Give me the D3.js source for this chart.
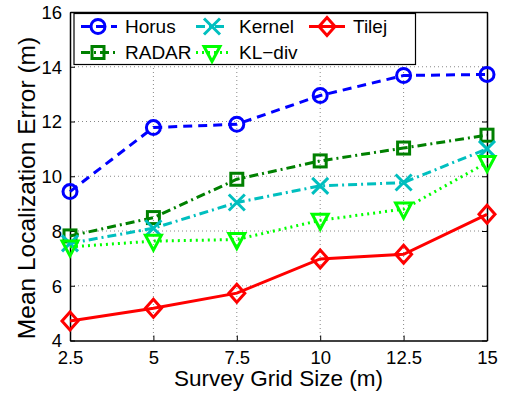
<!DOCTYPE html>
<html><head><meta charset="utf-8">
<script src="https://cdn.jsdelivr.net/npm/d3@7"></script>
<style>body{margin:0;background:#fff}svg{display:block}text{font-family:"Liberation Sans",Arial,sans-serif;fill:#000}</style>
</head><body><svg id="c" width="507" height="395"></svg>
<script>
const xValues = [2.5, 5, 7.5, 10, 12.5, 15];
const xTickLabels = ["2.5", "5", "7.5", "10", "12.5", "15"];
const yTicks = [4, 6, 8, 10, 12, 14, 16];
const seriesNames = ["Horus", "RADAR", "Kernel", "KL\u2212div", "Tilej"];
const horus = [9.44, 11.78, 11.9, 12.95, 13.68, 13.72];
const radar = [7.82, 8.49, 9.89, 10.56, 11.03, 11.5];
const kernel = [7.55, 8.1, 9.04, 9.65, 9.77, 11.0];
const kldiv = [7.42, 7.63, 7.69, 8.39, 8.8, 10.5];
const tilej = [4.71, 5.18, 5.73, 6.98, 7.15, 8.61];

const styles = [
  {color:"#0000ff", dash:"9,6", marker:"circle"},
  {color:"#008000", dash:"9,4,2,4", marker:"square"},
  {color:"#00bfbf", dash:"9,4,2,4", marker:"x"},
  {color:"#00ff00", dash:"2,4", marker:"tri"},
  {color:"#ff0000", dash:null, marker:"diamond"}
];
const allData = [horus, radar, kernel, kldiv, tilej];

const svg = d3.select("#c");
const L=70, R=487, T=12, B=340.5;
const x = d3.scaleLinear().domain([2.5,15]).range([L,R]);
const y = d3.scaleLinear().domain([4,16]).range([B,T]);

// grid
const g = svg.append("g");
g.selectAll(".gx").data(xValues.slice(1,-1)).enter().append("line")
  .attr("x1",d=>x(d)).attr("x2",d=>x(d)).attr("y1",T).attr("y2",B)
  .attr("stroke","#888").attr("stroke-width",1).attr("stroke-dasharray","1,3");
g.selectAll(".gy").data(yTicks.slice(1,-1)).enter().append("line")
  .attr("y1",d=>y(d)).attr("y2",d=>y(d)).attr("x1",L).attr("x2",R)
  .attr("stroke","#888").attr("stroke-width",1).attr("stroke-dasharray","1,3");

// axes
const xAxis = d3.axisBottom(x).tickValues(xValues).tickFormat((d,i)=>xTickLabels[i]).tickSizeInner(-5).tickSizeOuter(0).tickPadding(10);
const yAxis = d3.axisLeft(y).tickValues(yTicks).tickSizeInner(-5).tickSizeOuter(0).tickPadding(8);
const ax = svg.append("g").attr("transform",`translate(0,${B})`).call(xAxis);
const ay = svg.append("g").attr("transform",`translate(${L},0)`).call(yAxis);
const axT = svg.append("g").attr("transform",`translate(0,${T})`).call(d3.axisTop(x).tickValues(xValues).tickFormat("").tickSizeInner(-5).tickSizeOuter(0));
const ayR = svg.append("g").attr("transform",`translate(${R},0)`).call(d3.axisRight(y).tickValues(yTicks).tickFormat("").tickSizeInner(-5).tickSizeOuter(0));
[ax,ay,axT,ayR].forEach(a=>{a.select(".domain").attr("stroke","#000").attr("stroke-width",1.5);a.selectAll(".tick line").attr("stroke","#000");a.selectAll("text").style("font-size","18.5px").attr("fill","#000");});
ax.selectAll("text").attr("dy","0.71em");
ay.selectAll("text").attr("dy","0.35em");

function drawMarker(sel, type, cx, cy, color){
  const s = 7;
  if(type==="circle") sel.append("circle").attr("cx",cx).attr("cy",cy).attr("r",s).attr("fill","none").attr("stroke",color).attr("stroke-width",3);
  else if(type==="square") sel.append("rect").attr("x",cx-s+1).attr("y",cy-s+1).attr("width",2*s-2).attr("height",2*s-2).attr("fill","none").attr("stroke",color).attr("stroke-width",3);
  else if(type==="x"){ sel.append("path").attr("d",`M${cx-s-1},${cy-s-1}L${cx+s+1},${cy+s+1}M${cx-s-1},${cy+s+1}L${cx+s+1},${cy-s-1}`).attr("stroke",color).attr("stroke-width",3).attr("fill","none"); }
  else if(type==="tri") sel.append("path").attr("d",`M${cx-s-1},${cy-s+1}L${cx+s+1},${cy-s+1}L${cx},${cy+s+2}Z`).attr("fill","none").attr("stroke",color).attr("stroke-width",3);
  else if(type==="diamond") sel.append("path").attr("d",`M${cx},${cy-s-2}L${cx+s+1},${cy}L${cx},${cy+s+2}L${cx-s-1},${cy}Z`).attr("fill","none").attr("stroke",color).attr("stroke-width",3);
}

const line = d3.line().x((d,i)=>x(xValues[i])).y(d=>y(d));
allData.forEach((data,k)=>{
  const st = styles[k];
  const gg = svg.append("g");
  gg.append("path").datum(data).attr("d",line).attr("fill","none").attr("stroke",st.color).attr("stroke-width",3)
    .attr("stroke-dasharray",st.dash);
  data.forEach((v,i)=>drawMarker(gg, st.marker, x(xValues[i]), y(v), st.color));
});

// legend
const lg = svg.append("g");
lg.append("rect").attr("x",74).attr("y",13.5).attr("width",341.5).attr("height",51).attr("fill","#fff").attr("stroke","#000").attr("stroke-width",1.2);
const legPos = [
  {lx:81, mx:98, tx:125, ty:26.5},
  {lx:81, mx:98, tx:125, ty:52.5},
  {lx:196, mx:212, tx:239, ty:26.5},
  {lx:196, mx:212, tx:239, ty:52.5},
  {lx:309, mx:327, tx:353, ty:26.5}
];
seriesNames.forEach((name,k)=>{
  const p = legPos[k], st = styles[k];
  lg.append("line").attr("x1",p.lx).attr("x2",p.lx+(k>=2&&k<4?32:36)).attr("y1",p.ty).attr("y2",p.ty)
    .attr("stroke",st.color).attr("stroke-width",3).attr("stroke-dasharray",st.dash);
  drawMarker(lg, st.marker, p.mx, p.ty, st.color);
  lg.append("text").attr("x",p.tx).attr("y",p.ty).attr("dy","0.35em").style("font-size","19px").text(name);
});

// axis titles
svg.append("text").attr("x",(L+R)/2).attr("y",386).attr("text-anchor","middle").style("font-size","22.5px").text("Survey Grid Size (m)");
svg.append("text").attr("transform","translate(35,188) rotate(-90)").attr("text-anchor","middle").style("font-size","24.5px").text("Mean Localization Error (m)");
</script></body></html>
